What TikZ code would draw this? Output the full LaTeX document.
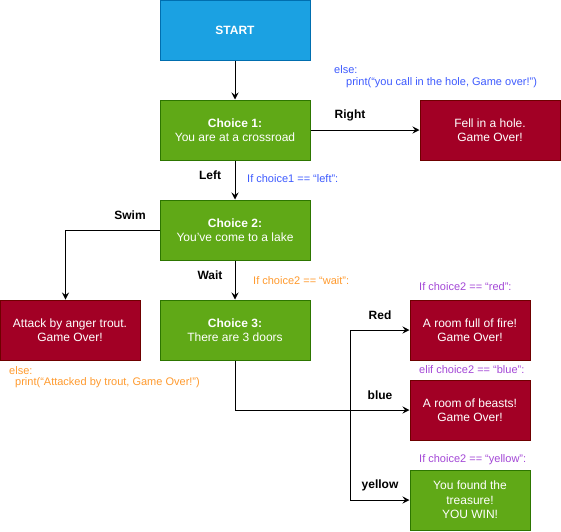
\documentclass[tikz,border=0pt]{standalone}
\usepackage{fontspec}
\setmainfont{Liberation Sans}
\usetikzlibrary{arrows.meta}
\definecolor{sblue}{HTML}{1BA1E2}
\definecolor{sbluel}{HTML}{006EAF}
\definecolor{sgreen}{HTML}{60A917}
\definecolor{sgreenl}{HTML}{2D7600}
\definecolor{sred}{HTML}{A20025}
\definecolor{sredl}{HTML}{6F0000}
\definecolor{codeblue}{HTML}{3D5AFE}
\definecolor{codeorange}{HTML}{FF9A2E}
\definecolor{codepurple}{HTML}{A347D6}
\tikzset{
  box/.style={rectangle, inner sep=0pt, text=white, align=center, line width=1pt,
    font=\fontsize{12}{14.5}\selectfont},
  startbox/.style={box, fill=sblue, draw=sbluel, minimum width=150pt, minimum height=60pt, font=\fontsize{12}{14.5}\selectfont\bfseries},
  choicebox/.style={box, fill=sgreen, draw=sgreenl, minimum width=150pt, minimum height=60pt},
  overbox/.style={box, fill=sred, draw=sredl, minimum height=60pt},
  winbox/.style={box, fill=sgreen, draw=sgreenl, minimum height=60pt, minimum width=120pt},
  arr/.style={draw=black, line width=1pt, -{Stealth[length=7pt,width=7pt,inset=2.5pt]}},
  lbl/.style={inner sep=0pt, font=\fontsize{12}{14}\selectfont\bfseries},
  code/.style={inner sep=0pt, anchor=west, font=\fontsize{11}{13}\selectfont}
}
\begin{document}
\begin{tikzpicture}[x=1pt,y=-1pt]
\useasboundingbox (0,0) rectangle (561,531);
\node[startbox] (start) at (235,30) {START};
\node[choicebox] (c1) at (235,130) {\textbf{Choice 1:}\\You are at a crossroad};
\node[overbox, minimum width=140pt] (fell) at (490,130) {Fell in a hole.\\Game Over!};
\node[choicebox] (c2) at (235,230) {\textbf{Choice 2:}\\You've come to a lake};
\node[overbox, minimum width=140pt] (attack) at (70,330) {Attack by anger trout.\\Game Over!};
\node[choicebox] (c3) at (235,330) {\textbf{Choice 3:}\\There are 3 doors};
\node[overbox, minimum width=120pt] (fire) at (470,330) {A room full of fire!\\Game Over!};
\node[overbox, minimum width=120pt] (beasts) at (470,410) {A room of beasts!\\Game Over!};
\node[winbox] (treasure) at (470,500) {You found the\\treasure!\\YOU WIN!};
\coordinate (j) at (350,410);

\draw[arr] (start) -- (c1);
\draw[arr] (c1) -- (fell);
\draw[arr] (c1) -- (c2);
\draw[arr] (c2.west) -| ([xshift=-4.5pt]attack.north);
\draw[arr] (c2) -- (c3);
\draw[arr] (c3.south) |- (beasts.west);
\draw[arr] (j) |- (fire.west);
\draw[arr] (j) |- (treasure.west);

\node[lbl] (lright) at (350,115) {Right};
\node[lbl] (lleft) at (210,175) {Left};
\node[lbl] (lswim) at (130,215) {Swim};
\node[lbl] (lwait) at (210,275) {Wait};
\node[lbl] (lred) at (380,315) {Red};
\node[lbl] (lblue) at (380,395) {blue};
\node[lbl] (lyellow) at (380,485) {yellow};

\node[code, text=codeblue] (else1) at (334,70) {else:};
\node[code, text=codeblue] (print1) at (346,83) {print(“you call in the hole, Game over!”)};
\node[code, text=codeblue] (if1) at (247,179) {If choice1 == “left”:};
\node[code, text=codeorange] (if2) at (253,281) {If choice2 == “wait”:};
\node[code, text=codeorange] (else2) at (9,370.5) {else:};
\node[code, text=codeorange] (print2) at (15,383) {print(“Attacked by trout, Game Over!”)};
\node[code, text=codepurple] (ifred) at (419,287) {If choice2 == “red”:};
\node[code, text=codepurple] (ifblue) at (419,370) {elif choice2 == “blue”:};
\node[code, text=codepurple] (ifyellow) at (419,460) {If choice2 == “yellow”:};
\end{tikzpicture}
\end{document}
